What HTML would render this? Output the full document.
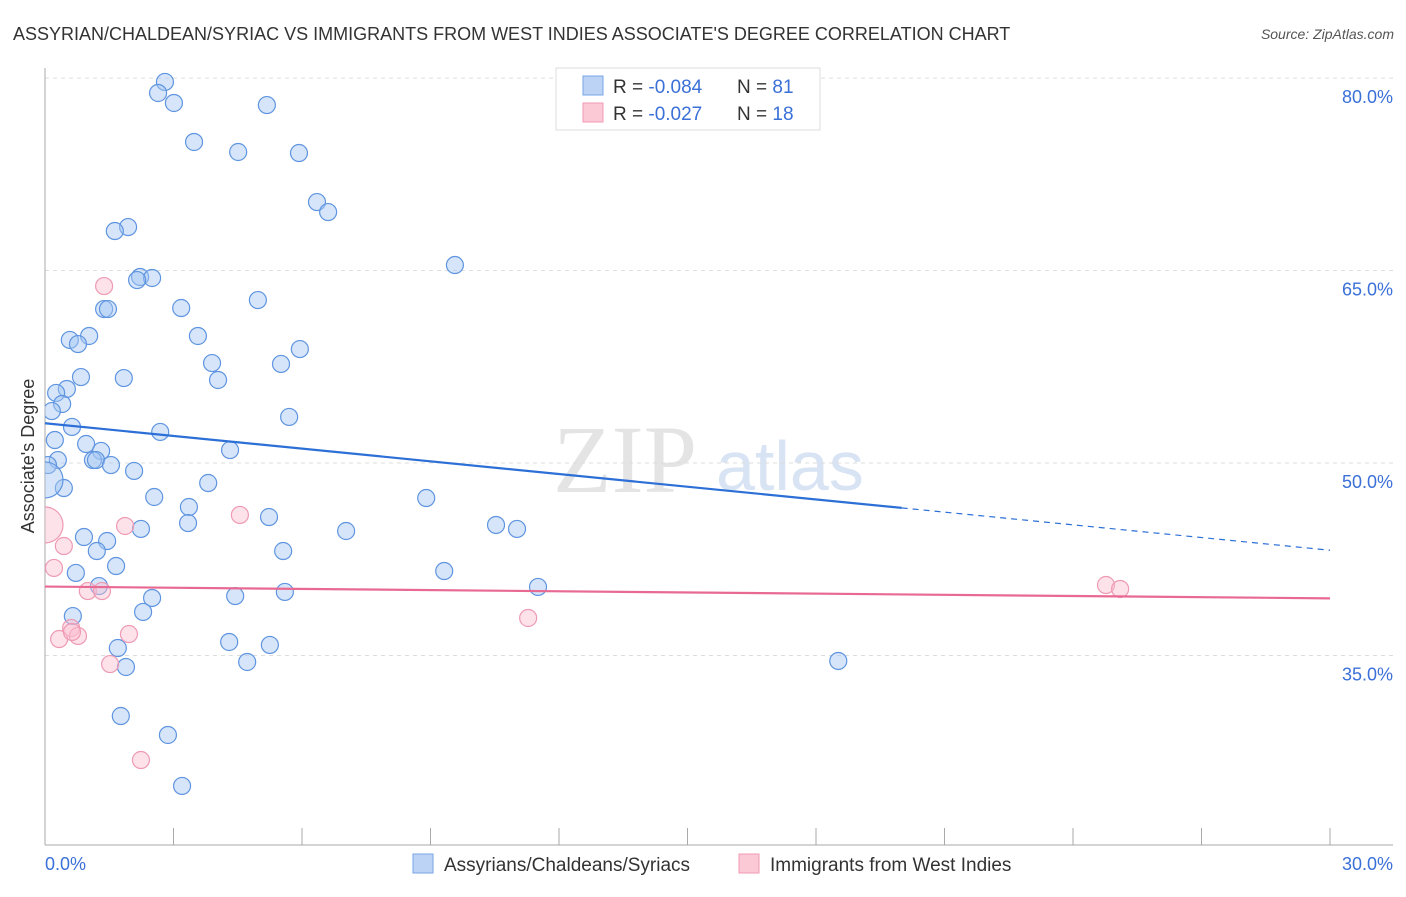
<!DOCTYPE html>
<html><head><meta charset="utf-8"><style>
body{margin:0;background:#fff;width:1406px;height:892px;overflow:hidden;font-family:"Liberation Sans",sans-serif;}
</style></head><body>
<svg id="chart" width="1406" height="892" xmlns="http://www.w3.org/2000/svg" style="font-family:'Liberation Sans',sans-serif">
<text x="13" y="40" font-size="18" fill="#333">ASSYRIAN/CHALDEAN/SYRIAC VS IMMIGRANTS FROM WEST INDIES ASSOCIATE'S DEGREE CORRELATION CHART</text>
<text x="1394" y="39" font-size="14" fill="#555" font-style="italic" text-anchor="end">Source: ZipAtlas.com</text>
<g>
<text x="553" y="492" font-size="96" fill="#e4e4e4" font-family="Liberation Serif, serif">ZIP</text>
<text x="716" y="490" font-size="70" fill="#d8e3f3">atlas</text>
</g>
<g id="grid"></g>
<g id="axes"></g>
<g id="points"></g>
<g id="trends"></g>
<text transform="translate(34,456) rotate(-90)" font-size="18" fill="#333" text-anchor="middle">Associate's Degree</text>
<g>
<rect x="556" y="68" width="264" height="62" fill="#fff" stroke="#ddd"/>
<rect x="583" y="76" width="20" height="19" fill="#bcd3f5" stroke="#7aa5e6"/>
<rect x="583" y="103" width="20" height="19" fill="#fbc8d6" stroke="#f09ab3"/>
<text x="613" y="93" font-size="19" fill="#333">R = <tspan fill="#3a70d8">-0.084</tspan></text>
<text x="737" y="93" font-size="19" fill="#333">N = <tspan fill="#3a70d8">81</tspan></text>
<text x="613" y="120" font-size="19" fill="#333">R = <tspan fill="#3a70d8"> -0.027</tspan></text>
<text x="737" y="120" font-size="19" fill="#333">N = <tspan fill="#3a70d8">18</tspan></text>
</g>
<g>
<rect x="413" y="854" width="20" height="19" fill="#bcd3f5" stroke="#7aa5e6"/>
<text x="444" y="871" font-size="19" fill="#333">Assyrians/Chaldeans/Syriacs</text>
<rect x="739" y="854" width="20" height="19" fill="#fbc8d6" stroke="#f09ab3"/>
<text x="770" y="871" font-size="19" fill="#333">Immigrants from West Indies</text>
</g>
</svg>
<script>
const yTicks=[35,50,65,80];
const yTickLabels=["35.0%","50.0%","65.0%","80.0%"];
const xTicks=[0,3,6,9,12,15,18,21,24,27,30];
const blueX=[2.80,2.64,3.01,5.18,3.48,4.51,5.93,6.35,6.61,1.94,1.63,9.57,2.22,2.50,2.15,4.97,3.18,1.38,1.47,3.57,1.03,0.58,0.77,5.95,3.90,5.51,0.84,1.84,4.04,0.51,0.26,0.40,0.16,5.70,0.63,2.69,0.23,0.96,4.32,1.31,0.30,1.12,1.19,1.54,0.07,2.08,0.44,3.81,0.0,2.55,8.90,3.36,10.53,11.02,3.34,5.23,7.03,2.24,0.91,1.45,1.21,5.56,1.66,0.72,9.32,1.26,11.51,5.60,2.50,4.44,0.65,2.29,4.30,5.25,1.70,1.89,4.72,18.52,1.77,2.87,3.20];
const blueY=[79.70,78.84,78.06,77.90,75.02,74.24,74.16,70.34,69.56,68.39,68.08,65.43,64.50,64.42,64.26,62.70,62.08,62.00,62.00,59.90,59.90,59.59,59.27,58.88,57.79,57.72,56.70,56.62,56.47,55.77,55.46,54.60,54.05,53.59,52.81,52.42,51.79,51.48,51.01,50.94,50.23,50.23,50.23,49.84,49.84,49.38,48.05,48.44,48.68,47.35,47.27,46.57,45.17,44.86,45.32,45.79,44.70,44.86,44.23,43.92,43.14,43.14,41.97,41.43,41.58,40.41,40.34,39.95,39.48,39.63,38.07,38.39,36.05,35.82,35.58,34.10,34.49,34.57,30.28,28.80,24.83];
const blueBig=[48];
const pinkX=[1.38,1.87,4.55,0.44,0.21,0,1.00,1.33,0.61,0.77,1.96,0.33,1.52,11.28,24.77,25.10,2.24,0.63];
const pinkY=[63.79,45.09,45.95,43.53,41.82,45.17,40.02,40.02,37.14,36.52,36.67,36.28,34.33,37.92,40.49,40.18,26.85,36.83];
const pinkBig=[5];
const blueTrend=[53.1,43.2];
const blueSolidEnd=20;
const pinkTrend=[40.37,39.45];

const NS="http://www.w3.org/2000/svg";
const X0=45,X1=1330,Y50=463,PPY=12.83;
function sx(v){return X0+(X1-X0)*v/30;}
function sy(v){return Y50-(v-50)*PPY;}
function mk(tag,attrs,parent){const e=document.createElementNS(NS,tag);for(const k in attrs)e.setAttribute(k,attrs[k]);parent.appendChild(e);return e;}
const grid=document.getElementById('grid'),axes=document.getElementById('axes'),pts=document.getElementById('points'),tr=document.getElementById('trends');
yTicks.forEach((t,i)=>{
 const l=mk('line',{x1:45,x2:1393,y1:sy(t),y2:sy(t),stroke:'#ddd','stroke-dasharray':'4,4'},grid);
 
 
 const tx=mk('text',{x:1393,y:sy(t)+25,'font-size':18,fill:'#3a70d8','text-anchor':'end'},axes);
 tx.textContent=yTickLabels[i];
 
 
});
const ya=mk('line',{x1:45,x2:45,y1:68,y2:845,stroke:'#aaa'},axes);


const xa=mk('line',{x1:45,x2:1393,y1:845,y2:845,stroke:'#aaa'},axes);


xTicks.forEach(t=>{
 const l=mk('line',{x1:sx(t),x2:sx(t),y1:828,y2:845,stroke:'#aaa'},axes);
 
 
});
const xl0=mk('text',{x:45,y:870,'font-size':18,fill:'#3a70d8'},axes);xl0.textContent='0.0%';


const xl1=mk('text',{x:1393,y:870,'font-size':18,fill:'#3a70d8','text-anchor':'end'},axes);xl1.textContent='30.0%';


mk('clipPath',{id:'pc'},document.getElementById('chart'));
mk('rect',{x:45,y:60,width:1360,height:785},document.getElementById('pc'));
pts.setAttribute('clip-path','url(#pc)');
blueX.forEach((v,i)=>{
 const c=mk('circle',{cx:sx(v),cy:sy(blueY[i]),r:blueBig.includes(i)?18:8.5,fill:'rgba(164,198,242,0.45)',stroke:'#5f95e0','stroke-width':1.2},pts);
 
 
});
pinkX.forEach((v,i)=>{
 const c=mk('circle',{cx:sx(v),cy:sy(pinkY[i]),r:pinkBig.includes(i)?18:8.5,fill:'rgba(250,190,208,0.45)',stroke:'#ee9ab4','stroke-width':1.2},pts);
 
 
});
function lerp(a,b,t){return a+(b-a)*t/30;}
const b1=mk('line',{x1:sx(0),y1:sy(blueTrend[0]),x2:sx(blueSolidEnd),y2:sy(lerp(blueTrend[0],blueTrend[1],blueSolidEnd)),stroke:'#2c6fd6','stroke-width':2.2},tr);


const b2=mk('line',{x1:sx(blueSolidEnd),y1:sy(lerp(blueTrend[0],blueTrend[1],blueSolidEnd)),x2:sx(30),y2:sy(blueTrend[1]),stroke:'#2c6fd6','stroke-width':1.2,'stroke-dasharray':'6,5'},tr);


const p1=mk('line',{x1:sx(0),y1:sy(pinkTrend[0]),x2:sx(30),y2:sy(pinkTrend[1]),stroke:'#e86a93','stroke-width':2.2},tr);


</script>
</body></html>
